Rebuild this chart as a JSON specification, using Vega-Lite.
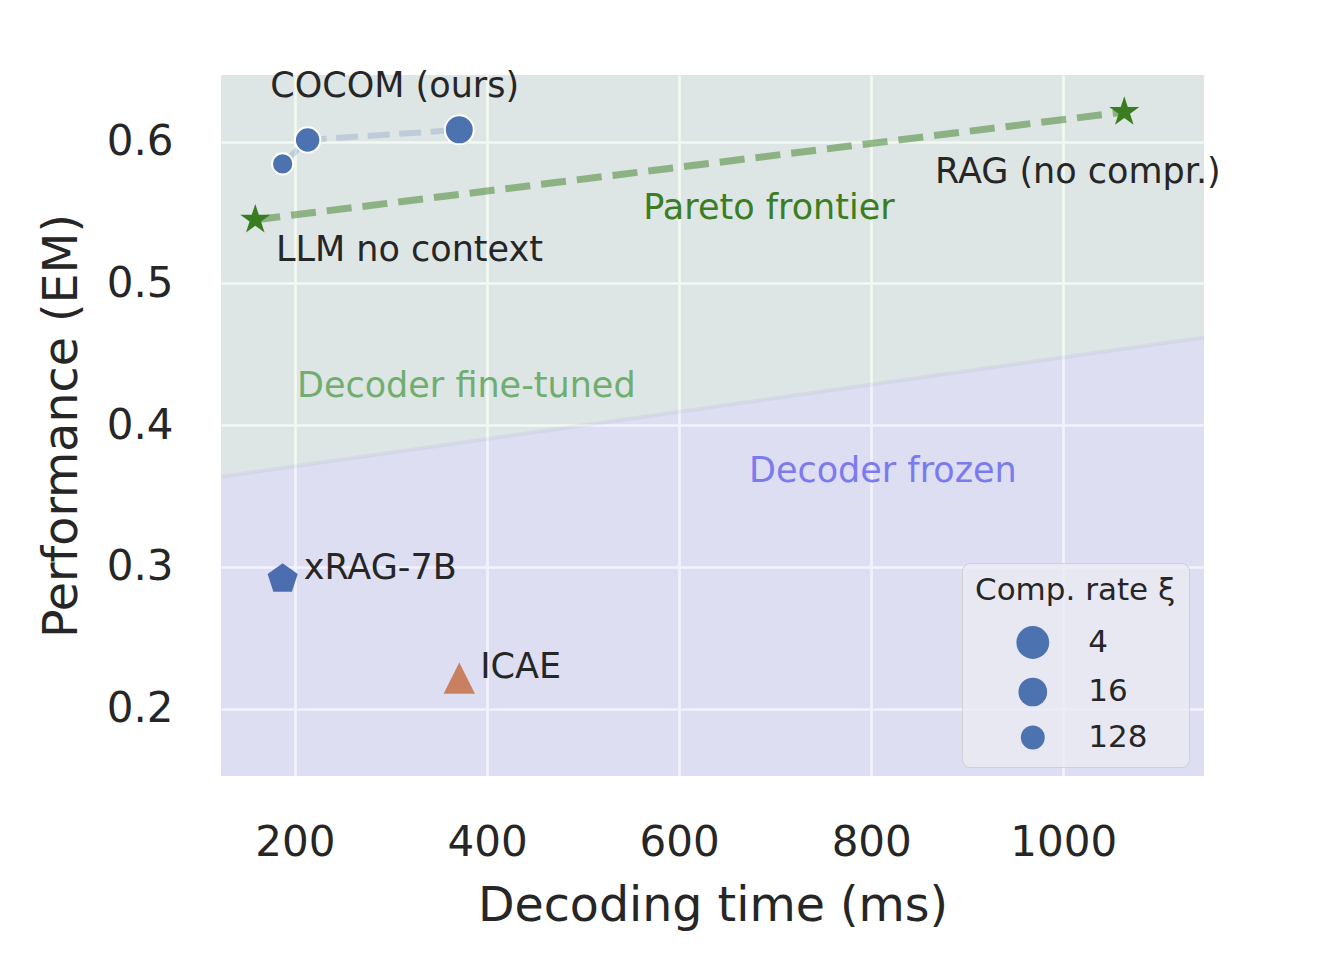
{
  "$schema": "https://vega.github.io/schema/vega-lite/v6.json",
  "width": 983,
  "height": 701,
  "autosize": {"type": "none"},
  "padding": {"left": 221, "top": 75, "right": 134, "bottom": 198},
  "background": "white",
  "config": {
    "font": "DejaVu Sans",
    "view": {"fill": "#EAEAF2", "stroke": null},
    "axis": {
      "ticks": false, "domain": false, "grid": true, "gridColor": "white", "gridWidth": 2.7,
      "labelFont": "DejaVu Sans", "labelFontSize": 42, "labelColor": "#262626",
      "titleFont": "DejaVu Sans", "titleFontSize": 47.5, "titleFontWeight": "normal", "titleColor": "#262626"
    }
  },
  "datasets": {
    "regions": [
      {"time": 123, "bottom": 0.1525, "boundary": 0.3636, "top": 0.647},
      {"time": 1146.5, "bottom": 0.1525, "boundary": 0.4619, "top": 0.647}
    ],
    "cocom": [
      {"method": "COCOM", "rate": 128, "time": 187.2, "em": 0.5843},
      {"method": "COCOM", "rate": 16, "time": 213.2, "em": 0.6012},
      {"method": "COCOM", "rate": 4, "time": 371.1, "em": 0.6083}
    ],
    "baselines": [
      {"name": "LLM no context", "time": 158.7, "em": 0.5449},
      {"name": "RAG (no compr.)", "time": 1063.5, "em": 0.6209}
    ],
    "xrag": [{"name": "xRAG-7B", "time": 187.2, "em": 0.2915}],
    "icae": [{"name": "ICAE", "time": 371.1, "em": 0.2216}],
    "labels": [
      {"text": "COCOM (ours)", "time": 174.3, "em": 0.6312, "kind": "dark"},
      {"text": "LLM no context", "time": 180.2, "em": 0.5157, "kind": "dark"},
      {"text": "RAG (no compr.)", "time": 866.4, "em": 0.571, "kind": "dark"},
      {"text": "Pareto frontier", "time": 562.7, "em": 0.5451, "kind": "pareto"},
      {"text": "Decoder fine-tuned", "time": 202.1, "em": 0.4196, "kind": "ft"},
      {"text": "Decoder frozen", "time": 672.7, "em": 0.3597, "kind": "frozen"},
      {"text": "xRAG-7B", "time": 209.1, "em": 0.2915, "kind": "dark"},
      {"text": "ICAE", "time": 392.9, "em": 0.2216, "kind": "dark"}
    ]
  },
  "encoding": {
    "x": {
      "field": "time", "type": "quantitative", "title": "Decoding time (ms)",
      "scale": {"domain": [123, 1146.5], "nice": false, "zero": false},
      "axis": {"values": [200, 400, 600, 800, 1000], "format": "d", "labelPadding": 46, "titleX": 491.5, "titleY": 144.5, "titleBaseline": "alphabetic", "titleAlign": "center"}
    },
    "y": {
      "field": "em", "type": "quantitative", "title": "Performance (EM)",
      "scale": {"domain": [0.1525, 0.647], "nice": false, "zero": false},
      "axis": {"values": [0.2, 0.3, 0.4, 0.5, 0.6], "format": ".1f", "labelPadding": 48, "titleX": -144.5, "titleY": 350.5, "titleBaseline": "alphabetic", "titleAlign": "center", "titleAngle": -90}
    }
  },
  "resolve": {"scale": {"size": "independent"}, "legend": {"size": "independent"}},
  "layer": [
    {
      "data": {"name": "regions"},
      "mark": {"type": "area", "color": "#008000", "opacity": 0.05, "clip": true},
      "encoding": {
        "y": {"field": "boundary", "type": "quantitative", "title": "Performance (EM)"},
        "y2": {"field": "top"}
      }
    },
    {
      "data": {"name": "regions"},
      "mark": {"type": "area", "color": "#0000ff", "opacity": 0.05, "clip": true},
      "encoding": {
        "y": {"field": "bottom", "type": "quantitative", "title": "Performance (EM)"},
        "y2": {"field": "boundary"}
      }
    },
    {
      "data": {"name": "regions"},
      "mark": {"type": "line", "color": "#303c80", "opacity": 0.05, "strokeWidth": 4, "clip": true},
      "encoding": {
        "y": {"field": "boundary", "type": "quantitative", "title": "Performance (EM)"}
      }
    },
    {
      "data": {"name": "baselines"},
      "mark": {"type": "line", "color": "#3a7d22", "opacity": 0.5, "strokeWidth": 7, "strokeDash": [25, 11]},
      "encoding": {}
    },
    {
      "data": {"name": "cocom"},
      "mark": {"type": "line", "color": "#4C72B0", "opacity": 0.22, "strokeWidth": 6, "strokeDash": [22, 9.6]},
      "encoding": {}
    },
    {
      "data": {"name": "cocom"},
      "mark": {"type": "point", "shape": "circle", "filled": true, "color": "#4C72B0", "stroke": "white", "strokeWidth": 2, "opacity": 1},
      "encoding": {
        "size": {
          "field": "rate", "type": "ordinal",
          "scale": {"domain": [4, 16, 128], "range": [840, 452, 219]},
          "legend": null
        }
      }
    },
    {
      "data": {"name": "cocom"},
      "transform": [{"filter": "false"}],
      "mark": {"type": "point", "shape": "circle", "filled": true, "color": "#4C72B0", "stroke": "white", "strokeWidth": 2, "opacity": 1},
      "encoding": {
        "size": {
          "field": "rate", "type": "ordinal",
          "scale": {"domain": [4, 16, 128], "range": [1075, 572, 254]},
          "legend": {
            "title": "Comp. rate ξ",
            "orient": "none", "legendX": 741, "legendY": 488,
            "padding": 13, "cornerRadius": 8,
            "fillColor": "rgba(234,234,242,0.8)", "strokeColor": "rgba(204,204,204,0.85)",
            "titleFont": "DejaVu Sans", "titleFontSize": 31, "titleFontWeight": "normal", "titleColor": "#262626", "titlePadding": 18, "titleLimit": 400,
            "labelFont": "DejaVu Sans", "labelFontSize": 31, "labelColor": "#262626", "labelOffset": 38,
            "symbolOffset": 40.3, "rowPadding": 10.5,
            "symbolType": "circle", "symbolFillColor": "#4C72B0", "symbolStrokeColor": "white", "symbolStrokeWidth": 2, "symbolOpacity": 1,
            "encode": {
              "legend": {"strokeWidth": {"value": 3}},
              "symbols": {
                "fill": {"value": "#4C72B0"},
                "stroke": {"value": "white"},
                "strokeWidth": {"value": 2},
                "opacity": {"value": 1}
              }
            }
          }
        }
      }
    },
    {
      "data": {"name": "baselines"},
      "mark": {"type": "point", "shape": "M0,-1L0.2245,-0.309L0.9511,-0.309L0.3633,0.118L0.5878,0.809L0,0.382L-0.5878,0.809L-0.3633,0.118L-0.9511,-0.309L-0.2245,-0.309Z", "size": 1000, "filled": true, "color": "#397d20", "opacity": 1, "strokeWidth": 0},
      "encoding": {}
    },
    {
      "data": {"name": "xrag"},
      "mark": {"type": "point", "shape": "M0,-1L0.9511,-0.309L0.5878,0.809L-0.5878,0.809L-0.9511,-0.309Z", "size": 1000, "filled": true, "color": "#4C6EB1", "opacity": 1, "strokeWidth": 0},
      "encoding": {}
    },
    {
      "data": {"name": "icae"},
      "mark": {"type": "point", "shape": "M0,-1L1,1L-1,1Z", "size": 980, "filled": true, "color": "#C88060", "opacity": 1, "strokeWidth": 0},
      "encoding": {}
    },
    {
      "data": {"name": "labels"},
      "mark": {"type": "text", "align": "left", "baseline": "alphabetic", "fontSize": 35, "font": "DejaVu Sans"},
      "encoding": {
        "text": {"field": "text"},
        "color": {
          "field": "kind", "type": "nominal", "legend": null,
          "scale": {"domain": ["dark", "pareto", "ft", "frozen"], "range": ["#262626", "#3a7d22", "#6fae6f", "#7b7bee"]}
        }
      }
    }
  ]
}
